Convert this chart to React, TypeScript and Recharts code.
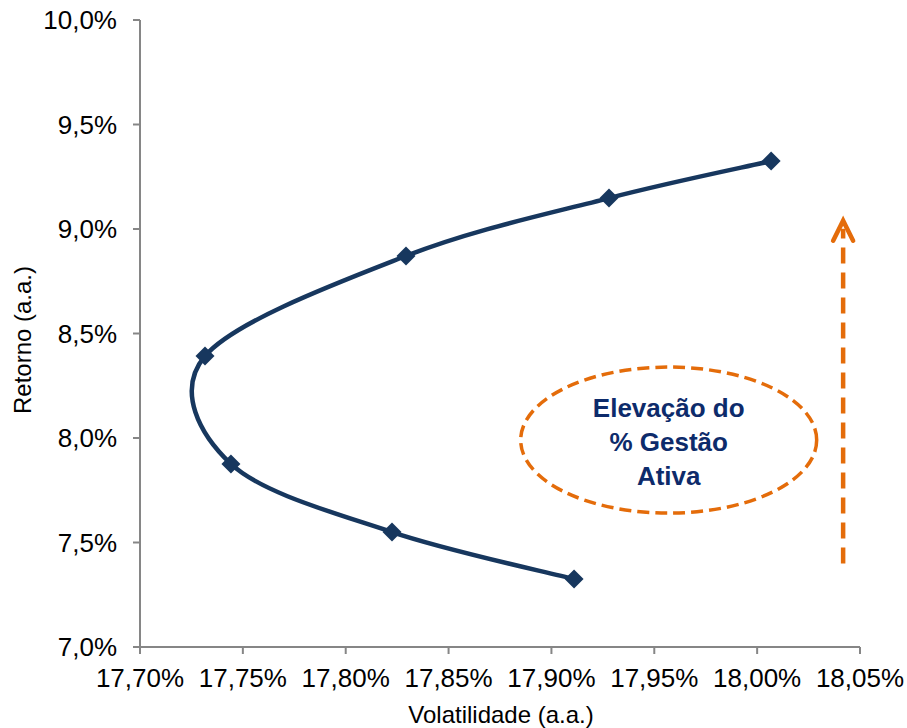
import React from 'react';
import {
  LineChart,
  Line,
  XAxis,
  YAxis,
  ReferenceDot,
  ReferenceLine,
} from 'recharts';

// frontier points
const volatility = [17.911, 17.8225, 17.7442, 17.7316, 17.8293, 17.928, 18.0068];
const returns = [7.325, 7.55, 7.876, 8.392, 8.871, 9.148, 9.325];

const xTicks = [17.7, 17.75, 17.8, 17.85, 17.9, 17.95, 18.0, 18.05];
const yTicks = [7.0, 7.5, 8.0, 8.5, 9.0, 9.5, 10.0];

const noteLines = ['Elevação do', '% Gestão', 'Ativa'];
const noteCenter = { x: 17.957, y: 7.99 };
const arrowX = 18.0418;
const arrowFrom = 7.4;
const arrowTo = 9.04;

const NAVY = '#17375E';
const ORANGE = '#E46C0A';
const AXIS = '#868686';
const FONT = '"Liberation Sans", Arial, sans-serif';

const data = volatility.map((v, i) => ({ x: v, y: returns[i] }));

// smoothing close to Excel's "smoothed line" (Catmull-Rom style bezier)
const smoothCurve: any = (context: any) => {
  let pts: number[][] = [];
  return {
    areaStart() {},
    areaEnd() {},
    lineStart() {
      pts = [];
    },
    point(x: number, y: number) {
      pts.push([+x, +y]);
    },
    lineEnd() {
      if (!pts.length) return;
      context.moveTo(pts[0][0], pts[0][1]);
      for (let i = 0; i < pts.length - 1; i++) {
        const p0 = pts[i - 1] || pts[i];
        const p1 = pts[i];
        const p2 = pts[i + 1];
        const p3 = pts[i + 2] || p2;
        context.bezierCurveTo(
          p1[0] + (p2[0] - p0[0]) / 6,
          p1[1] + (p2[1] - p0[1]) / 6,
          p2[0] - (p3[0] - p1[0]) / 6,
          p2[1] - (p3[1] - p1[1]) / 6,
          p2[0],
          p2[1]
        );
      }
    },
  };
};

const Diamond = (props: any) => {
  const { cx, cy } = props;
  if (cx == null || cy == null) return null;
  const r = 9.5;
  return (
    <polygon
      points={`${cx},${cy - r} ${cx + r},${cy} ${cx},${cy + r} ${cx - r},${cy}`}
      fill={NAVY}
    />
  );
};

const NoteEllipse = (props: any) => {
  const { cx, cy } = props;
  return (
    <g>
      <ellipse
        cx={cx}
        cy={cy}
        rx={148}
        ry={73}
        fill="none"
        stroke={ORANGE}
        strokeWidth={3.5}
        strokeDasharray="12 6"
      />
      {noteLines.map((t, i) => (
        <text
          key={t}
          x={cx}
          y={cy + 2 + (i - 1) * 34}
          textAnchor="middle"
          dominantBaseline="central"
          fontFamily={FONT}
          fontWeight="bold"
          fontSize={26}
          fill="#0D2B6B"
        >
          {t}
        </text>
      ))}
    </g>
  );
};

const Arrow = (props: any) => {
  const { x1, y1, x2, y2 } = props;
  const bottom = Math.max(y1, y2);
  const top = Math.min(y1, y2);
  return (
    <g>
      <line
        x1={x1}
        y1={bottom}
        x2={x2}
        y2={top + 8}
        stroke={ORANGE}
        strokeWidth={4.5}
        strokeDasharray="16 9"
      />
      <polyline
        points={`${x1 - 10},${top + 20} ${x1},${top} ${x1 + 10},${top + 20}`}
        fill="none"
        stroke={ORANGE}
        strokeWidth={4.5}
        strokeLinecap="round"
        strokeLinejoin="miter"
      />
    </g>
  );
};

const fmtX = (v: number) => v.toFixed(2).replace('.', ',') + '%';
const fmtY = (v: number) => v.toFixed(1).replace('.', ',') + '%';

export default function App() {
  return (
    <div style={{ position: 'absolute', left: 0, top: 0, background: '#fff' }}>
      <LineChart
        width={907}
        height={728}
        data={data}
        margin={{ top: 20, right: 47, bottom: 0, left: 0 }}
      >
        <XAxis
          type="number"
          dataKey="x"
          domain={[17.7, 18.05]}
          ticks={xTicks}
          tickFormatter={fmtX}
          allowDataOverflow
          height={81}
          stroke={AXIS}
          strokeWidth={2}
          tickSize={7}
          tickMargin={15}
          tick={{ fill: '#000', fontSize: 26, fontFamily: FONT }}
          interval={0}
          label={{
            content: () => (
              <text
                x={501}
                y={714}
                textAnchor="middle"
                dominantBaseline="central"
                fontFamily={FONT}
                fontSize={24}
                fill="#000"
              >
                Volatilidade (a.a.)
              </text>
            ),
          }}
        />
        <YAxis
          type="number"
          dataKey="y"
          domain={[7, 10]}
          ticks={yTicks}
          tickFormatter={fmtY}
          allowDataOverflow
          width={140}
          stroke={AXIS}
          strokeWidth={2}
          tickSize={7}
          tickMargin={16}
          tick={{ fill: '#000', fontSize: 26, fontFamily: FONT }}
          interval={0}
          label={{
            content: () => (
              <text
                x={22}
                y={340}
                transform="rotate(-90 22 340)"
                textAnchor="middle"
                dominantBaseline="central"
                fontFamily={FONT}
                fontSize={24}
                fill="#000"
              >
                Retorno (a.a.)
              </text>
            ),
          }}
        />
        <Line
          dataKey="y"
          type={smoothCurve}
          stroke={NAVY}
          strokeWidth={4.5}
          dot={<Diamond />}
          activeDot={false}
          isAnimationActive={false}
        />
        <ReferenceDot
          x={noteCenter.x}
          y={noteCenter.y}
          r={0}
          shape={<NoteEllipse />}
        />
        <ReferenceLine
          segment={[
            { x: arrowX, y: arrowFrom },
            { x: arrowX, y: arrowTo },
          ]}
          shape={<Arrow />}
        />
      </LineChart>
    </div>
  );
}
